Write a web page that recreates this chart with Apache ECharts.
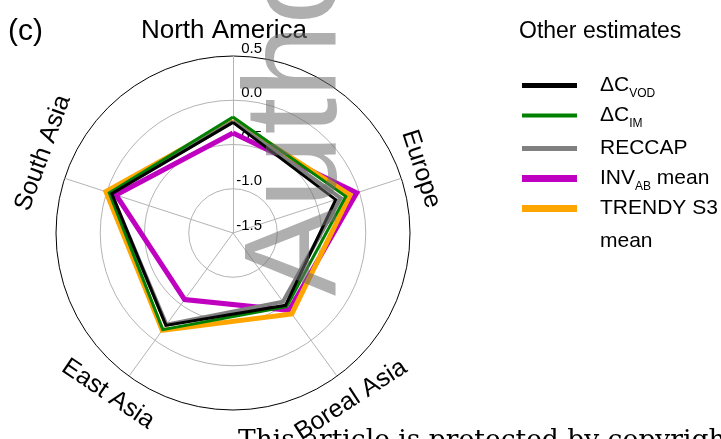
<!DOCTYPE html>
<html><head><meta charset="utf-8">
<script src="https://cdn.jsdelivr.net/npm/echarts@6/dist/echarts.min.js"></script>
<style>html,body{margin:0;padding:0;background:#fff}#c{width:721px;height:439px}</style>
</head><body><div id="c"></div>
<script>
// Indicators in ECharts (counter-clockwise from top) order
const regions = ['North America', 'South Asia', 'East Asia', 'Boreal Asia', 'Europe'];
const tickLabels = ['-1.5', '-1.0', '-0.5', '0.0', '0.5'];
const legendNames = ['ΔC_VOD', 'ΔC_IM', 'RECCAP', 'INV_AB mean', 'TRENDY S3 mean'];

const dcVOD  = [-0.25, -0.06, -0.21, -0.49, -0.28];
const dcIM   = [-0.19, -0.03, -0.15, -0.47, -0.16];
const reccap = [-0.24, -0.05, -0.22, -0.54, -0.22];
const invAB  = [-0.37, -0.11, -0.57, -0.42, -0.03];
const trendy = [-0.23,  0.01, -0.14, -0.37, -0.11];

const FONT = 'Liberation Sans, Arial, sans-serif';

// drawing order: bottom first
const seriesDefs = [
  { name: 'INV_AB mean', data: invAB, color: '#c000c0', width: 5 },
  { name: 'TRENDY S3 mean', data: trendy, color: '#ffa500', width: 5 },
  { name: 'RECCAP', data: reccap, color: '#808080', width: 4 },
  { name: 'ΔC_IM', data: dcIM, color: '#008000', width: 3 },
  { name: 'ΔC_VOD', data: dcVOD, color: '#000000', width: 3 }
];

const legendLook = {
  'ΔC_VOD':        { center: 89,  thick: 5, text: '{g| }{m|ΔC}{s|VOD}' },
  'ΔC_IM':         { center: 119, thick: 4, text: '{g| }{m|ΔC}{s|IM}' },
  'RECCAP':        { center: 152, thick: 5, text: '{g| }{m|RECCAP}' },
  'INV_AB mean':   { center: 182, thick: 7, text: '{g| }{m|INV}{s|AB}{m| mean}' },
  'TRENDY S3 mean':{ center: 212, thick: 7, text: '{g| }{m|TRENDY S3}' }
};

const rich = {
  g: { width: 18 },
  m: { fontSize: 21, lineHeight: 28, fontFamily: FONT, color: '#000' },
  s: { fontSize: 12, lineHeight: 10, verticalAlign: 'bottom', fontFamily: FONT, color: '#000' }
};

const legends = legendNames.map(function (nm) {
  const L = legendLook[nm];
  return {
    data: [nm], orient: 'vertical', left: 522, top: L.center - 14, padding: 0,
    itemWidth: 55, itemHeight: L.thick, icon: 'rect', selectedMode: false,
    formatter: function () { return L.text; },
    textStyle: { rich: rich }
  };
});

const chart = echarts.init(document.getElementById('c'), null, { renderer: 'canvas' });
chart.setOption({
  animation: false,
  backgroundColor: '#fff',
  legend: legends,
  radar: {
    center: [233, 233], radius: 177, startAngle: 90, shape: 'circle', splitNumber: 4,
    indicator: regions.map(function (r, i) {
      const o = { name: r, min: -1.5, max: 0.5 };
      if (i === 0) o.axisLabel = { show: true };
      return o;
    }),
    axisName: { show: false },
    name: { show: false },
    axisLine: { lineStyle: { color: '#b4b4b4', width: 1 } },
    axisTick: { show: false },
    splitLine: { lineStyle: { color: ['#b4b4b4', '#b4b4b4', '#b4b4b4', '#b4b4b4', '#000'], width: 1 } },
    splitArea: { show: false },
    axisLabel: {
      show: false, fontSize: 15, color: '#000', fontFamily: FONT, margin: -29,
      align: 'right', verticalAlign: 'bottom',
      formatter: function (v) { const i = Math.round((v + 1.5) / 0.5); return tickLabels[i]; }
    }
  },
  series: seriesDefs.map(function (d) {
    return {
      type: 'radar', name: d.name, symbol: 'none', z: 2,
      lineStyle: { color: d.color, width: d.width, join: 'miter' },
      itemStyle: { color: d.color },
      data: [{ name: d.name, value: d.data }]
    };
  }),
  graphic: [
    { type: 'text', x: 8, y: 32, style: { text: '(c)', fontSize: 30, fontFamily: FONT, fill: '#000', align: 'left', verticalAlign: 'middle' } },
    { type: 'text', x: 224, y: 31, style: { text: 'North America', fontSize: 26, fontFamily: FONT, fill: '#000', align: 'center', verticalAlign: 'middle' } },
    { type: 'text', x: 421, y: 169, rotation: -72 * Math.PI / 180, style: { text: 'Europe', fontSize: 25, fontFamily: FONT, fill: '#000', align: 'center', verticalAlign: 'middle' } },
    { type: 'text', x: 351, y: 400, rotation: 33 * Math.PI / 180, style: { text: 'Boreal Asia', fontSize: 25, fontFamily: FONT, fill: '#000', align: 'center', verticalAlign: 'middle' } },
    { type: 'text', x: 108, y: 394, rotation: -34 * Math.PI / 180, style: { text: 'East Asia', fontSize: 25, fontFamily: FONT, fill: '#000', align: 'center', verticalAlign: 'middle' } },
    { type: 'text', x: 43, y: 153, rotation: 70 * Math.PI / 180, style: { text: 'South Asia', fontSize: 25, fontFamily: FONT, fill: '#000', align: 'center', verticalAlign: 'middle' } },
    { type: 'text', x: 519, y: 32, style: { text: 'Other estimates', fontSize: 23, fontFamily: FONT, fill: '#000', align: 'left', verticalAlign: 'middle' } },
    { type: 'text', x: 600, y: 241, style: { text: 'mean', fontSize: 21, fontFamily: FONT, fill: '#000', align: 'left', verticalAlign: 'middle' } },
    { type: 'text', x: 366, y: 296, rotation: Math.PI / 2, z: 100, style: { text: 'Author', fontSize: 132, fontFamily: FONT, fill: 'rgba(110,110,110,0.55)', align: 'left', verticalAlign: 'bottom' } },
    { type: 'text', x: 238, y: 428, z: 100, style: { text: 'This article is protected by copyright. All rights reserved', fontSize: 26.5, fontFamily: 'DejaVu Serif, serif', fill: '#000', align: 'left', verticalAlign: 'alphabetic' } }
  ]
});
</script></body></html>
